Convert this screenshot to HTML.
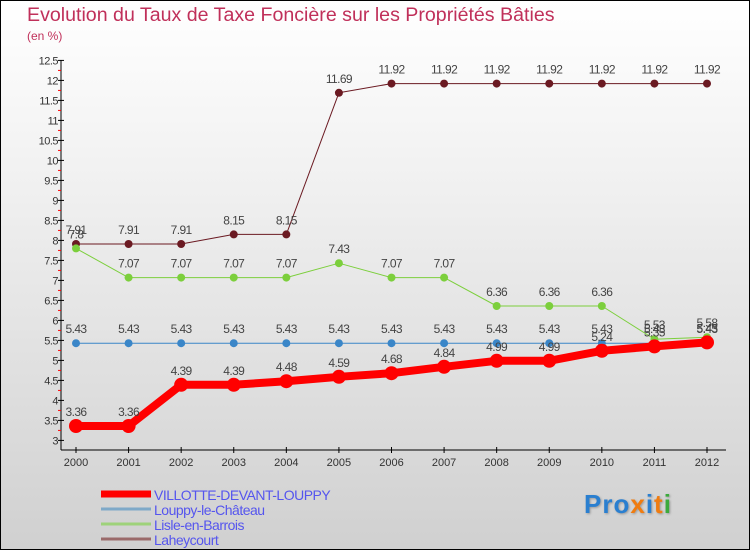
<!DOCTYPE html>
<html><head><meta charset="utf-8"><style>
body{margin:0;width:750px;height:550px;overflow:hidden;font-family:"Liberation Sans",sans-serif}
#wrap{position:relative;width:748px;height:548px;border:1px solid #000;background:linear-gradient(#ffffff,#f2f2f2 30%,#d0d0d0)}
.t{position:absolute;color:#c0305a}
</style></head><body>
<div id="wrap">
<div class="t" style="left:26px;top:3px;font-size:19.6px">Evolution du Taux de Taxe Foncière sur les Propriétés Bâties</div>
<div class="t" style="left:26px;top:28px;font-size:12px">(en %)</div>
<svg id="c" width="750" height="550" style="position:absolute;left:0;top:0"></svg>
<div style="position:absolute;left:583px;top:488px;font-size:26px;font-weight:bold;letter-spacing:1px;text-shadow:1px 1px 2px #999"><span style="color:#2a7fd0">Pro</span><span style="color:#f07c10">x</span><span style="color:#2a7fd0">i</span><span style="color:#f07c10">t</span><span style="color:#3caa3c">i</span></div>
</div>
<script>
const years=[2000,2001,2002,2003,2004,2005,2006,2007,2008,2009,2010,2011,2012];
const villotte=[3.36,3.36,4.39,4.39,4.48,4.59,4.68,4.84,4.99,4.99,5.24,5.35,5.45];
const louppy=[5.43,5.43,5.43,5.43,5.43,5.43,5.43,5.43,5.43,5.43,5.43,5.43,5.43];
const lisle=[7.8,7.07,7.07,7.07,7.07,7.43,7.07,7.07,6.36,6.36,6.36,5.53,5.58];
const laheycourt=[7.91,7.91,7.91,8.15,8.15,11.69,11.92,11.92,11.92,11.92,11.92,11.92,11.92];
const yTicks=[3,3.5,4,4.5,5,5.5,6,6.5,7,7.5,8,8.5,9,9.5,10,10.5,11,11.5,12,12.5];
const seriesNames=["VILLOTTE-DEVANT-LOUPPY","Louppy-le-Château","Lisle-en-Barrois","Laheycourt"];
const svg=document.getElementById('c');const NS='http://www.w3.org/2000/svg';
const X=i=>75+i*(706-75)/(years.length-1);
const Y=v=>439.4-(v-3)*40;
function el(t,a,p){const e=document.createElementNS(NS,t);for(const k in a)e.setAttribute(k,a[k]);(p||svg).appendChild(e);return e;}
let a=el('line',{x1:60,y1:Y(12.5),x2:60,y2:449,stroke:'#000'});

a=el('line',{x1:60,y1:449,x2:725,y2:449,stroke:'#000'});

yTicks.forEach(v=>{el('line',{x1:57,y1:Y(v),x2:63,y2:Y(v),stroke:'#000'});
 if(v<12.5)el('line',{x1:57,y1:Y(v+0.25),x2:60,y2:Y(v+0.25),stroke:'red'});
 const t=el('text',{x:57,y:Y(v)+4,'text-anchor':'end','font-size':11,fill:'#333','letter-spacing':'-0.5'});t.textContent=String(v);
 });
years.forEach((y,i)=>{el('line',{x1:X(i),y1:446,x2:X(i),y2:452,stroke:'#000'});
 const t=el('text',{x:X(i),y:465,'text-anchor':'middle','font-size':11,fill:'#333'});t.textContent=y;
 });
function series(vals,color,w,r,name){
 const g=el('g',{});
 el('polyline',{points:vals.map((v,i)=>X(i)+','+Y(v)).join(' '),fill:'none',stroke:color,'stroke-width':w,'stroke-linejoin':'round'},g);
 vals.forEach((v,i)=>{const c=el('circle',{cx:X(i),cy:Y(v),r:r,fill:color},g);
  
  const t=el('text',{x:X(i),y:Y(v)-10,'text-anchor':'middle','font-size':12,fill:'#444','letter-spacing':'-0.6'},g);t.textContent=v.toFixed(2).replace(/0$/,'').replace(/\.$/,'');});
}
series(laheycourt,'#6b1a22',1,4,'series-laheycourt');
series(lisle,'#7ccf3c',1,4,'series-lisle');
series(louppy,'#3a86c8',1,4,'series-louppy');
series(villotte,'#ff0000',8,7,'series-villotte');
const lc=['#ff0000','#7fa9c8','#9ed27a','#9a6a6a'],lw=[7,3,3,3];
seriesNames.forEach((n,i)=>{const y=493+i*15;
 const g=el('g',{});
 el('line',{x1:100,y1:y,x2:150,y2:y,stroke:lc[i],'stroke-width':lw[i]},g);
 const t=el('text',{x:153,y:y+6,'font-size':14,fill:'#5555ee','letter-spacing':'-0.5'},g);t.textContent=n;});
</script>
</body></html>
